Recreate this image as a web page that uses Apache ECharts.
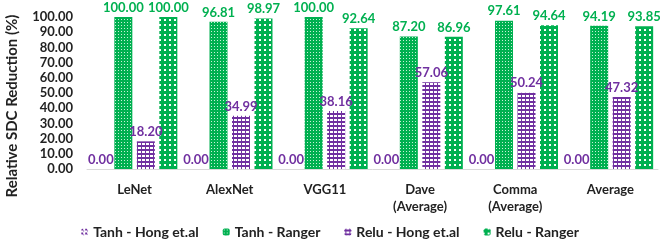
<!DOCTYPE html>
<html><head><meta charset="utf-8">
<script src="https://cdn.jsdelivr.net/npm/echarts@6/dist/echarts.min.js"></script>
<style>html,body{margin:0;padding:0;background:#fff}#c{width:660px;height:249px}</style>
</head><body><div id="c"></div>
<script>
const categories = ['LeNet', 'AlexNet', 'VGG11', 'Dave\n(Average)', 'Comma\n(Average)', 'Average'];
const tanhHong = [0, 0, 0, 0, 0, 0];
const tanhRanger = [100.00, 96.81, 100.00, 87.20, 97.61, 94.19];
const reluHong = [18.20, 34.99, 38.16, 57.06, 50.24, 47.32];
const reluRanger = [100.00, 98.97, 92.64, 86.96, 94.64, 93.85];
const seriesNames = ['Tanh - Hong et.al', 'Tanh - Ranger', 'Relu - Hong et.al', 'Relu - Ranger'];
const yTitle = 'Relative SDC Reduction (%)';
const yTicks = {min: 0, max: 100, interval: 10};

const GREEN = '#00B050', PURPLE = '#7030A0';
function tile(w, h, draw) {
  const c = document.createElement('canvas'); c.width = w; c.height = h;
  const g = c.getContext('2d'); draw(g); return c;
}
const patTanhHong = tile(4, 4, g => { g.fillStyle = '#fff'; g.fillRect(0,0,4,4); g.fillStyle = PURPLE; g.fillRect(0,0,2,2); g.fillRect(2,2,1,1); });
const patTanhRanger = tile(3, 3, g => { g.fillStyle = GREEN; g.fillRect(0,0,3,3); g.fillStyle = '#c8f0d8'; g.fillRect(1,1,1,1); });
const patReluHong = tile(4, 4, g => { g.fillStyle = '#fff'; g.fillRect(0,0,4,4); g.fillStyle = PURPLE; g.fillRect(0,1,4,2); g.fillRect(1,0,1,4); });
const patReluRanger = tile(5, 5, g => { g.fillStyle = '#fff'; g.fillRect(0,0,5,5); g.fillStyle = GREEN; g.fillRect(0,1,5,3); g.fillRect(1,0,3,5); });

const FONT = 'Lato';
function mk(name, data, pat, labColor) {
  return {
    name, type: 'bar', data, barWidth: 18, barGap: '25%',
    itemStyle: {color: {image: pat, repeat: 'repeat'}},
    label: {show: true, position: 'top', distance: 3, color: labColor, fontFamily: FONT, fontWeight: 'bold', fontSize: 13,
      formatter: p => p.value.toFixed(2)}
  };
}
const chart = echarts.init(document.getElementById('c'), null, {renderer: 'canvas'});
chart.setOption({
  animation: false,
  grid: {left: 87, right: 2, top: 17, bottom: 80, containLabel: false},
  graphic: [{
    type: 'text', x: 5, y: 106, rotation: Math.PI / 2,
    style: {text: yTitle, fontFamily: FONT, fontWeight: 'bold', fontSize: 15, fill: '#222', align: 'center', verticalAlign: 'top'}
  }],
  legend: {
    bottom: 5, left: 'center', itemWidth: 7, itemHeight: 7, itemGap: 24,
    textStyle: {fontFamily: FONT, fontWeight: 'bold', fontSize: 14, color: '#222'},
    data: seriesNames
  },
  xAxis: {
    type: 'category', data: categories,
    axisLine: {lineStyle: {color: '#d9d9d9', width: 1}}, axisTick: {show: false},
    axisLabel: {color: '#222', fontFamily: FONT, fontWeight: 'bold', fontSize: 13, lineHeight: 17, margin: 12, interval: 0}
  },
  yAxis: {
    type: 'value', min: yTicks.min, max: yTicks.max, interval: yTicks.interval,
    splitLine: {show: false}, axisLine: {show: false}, axisTick: {show: false},
    axisLabel: {color: '#222', fontFamily: FONT, fontWeight: 'bold', fontSize: 13, margin: 14, formatter: v => v.toFixed(2)}
  },
  series: [
    mk(seriesNames[0], tanhHong, patTanhHong, PURPLE),
    mk(seriesNames[1], tanhRanger, patTanhRanger, GREEN),
    mk(seriesNames[2], reluHong, patReluHong, PURPLE),
    mk(seriesNames[3], reluRanger, patReluRanger, GREEN)
  ]
});
</script></body></html>
